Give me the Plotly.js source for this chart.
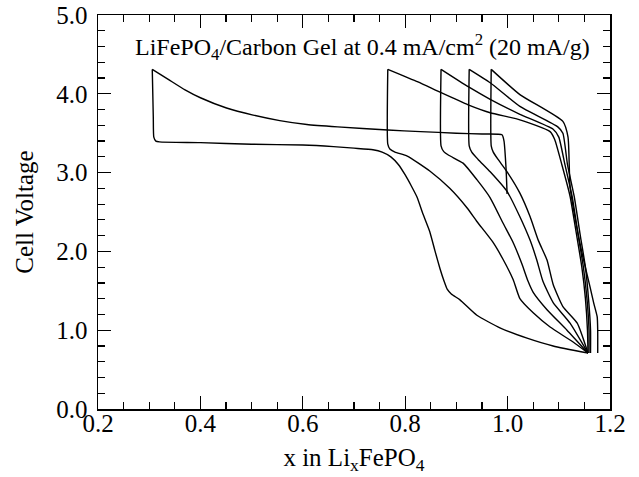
<!DOCTYPE html>
<html>
<head>
<meta charset="utf-8">
<script src="https://cdn.plot.ly/plotly-3.0.1.min.js"></script>
<style>html,body{margin:0;padding:0;background:#fff;}#chart{width:639px;height:477px;}</style>
</head>
<body>
<div id="chart"></div>
<script>
// Initial charge (from x = 1.0 up to 4.3 V)
const c0x = [0.999, 0.997, 0.993, 0.989, 0.95, 0.90, 0.83, 0.766, 0.668, 0.608, 0.555, 0.503, 0.451, 0.40, 0.37, 0.338, 0.306];
const c0y = [2.73, 3.05, 3.40, 3.48, 3.49, 3.50, 3.52, 3.54, 3.58, 3.61, 3.66, 3.73, 3.82, 3.95, 4.05, 4.18, 4.31];
// First discharge
const d1x = [0.306, 0.308, 0.309, 0.313, 0.320, 0.40, 0.50, 0.60, 0.66, 0.70, 0.737, 0.755, 0.772, 0.787, 0.80, 0.812, 0.823, 0.835, 0.848, 0.858, 0.868, 0.876, 0.882, 0.890, 0.907, 0.940, 0.985, 1.038, 1.089, 1.157];
const d1y = [4.31, 3.70, 3.45, 3.40, 3.39, 3.38, 3.36, 3.35, 3.33, 3.31, 3.29, 3.26, 3.20, 3.10, 2.97, 2.83, 2.69, 2.47, 2.25, 2.01, 1.78, 1.62, 1.52, 1.46, 1.385, 1.19, 1.03, 0.90, 0.80, 0.71];
// Charge cycles 2-5
const c2x = [1.157, 1.156, 1.152, 1.145, 1.135, 1.122, 1.106, 1.092, 1.083, 1.024, 0.966, 0.923, 0.868, 0.825, 0.766];
const c2y = [0.71, 1.00, 1.40, 1.80, 2.20, 2.70, 3.10, 3.42, 3.52, 3.67, 3.76, 3.86, 4.02, 4.15, 4.31];
const c3x = [1.159, 1.159, 1.155, 1.148, 1.138, 1.126, 1.112, 1.100, 1.089, 1.024, 0.966, 0.923, 0.870];
const c3y = [0.71, 1.00, 1.40, 1.80, 2.20, 2.70, 3.10, 3.45, 3.55, 3.74, 3.93, 4.09, 4.31];
const c4x = [1.162, 1.162, 1.158, 1.152, 1.142, 1.130, 1.117, 1.108, 1.098, 1.024, 0.966, 0.925];
const c4y = [0.71, 1.00, 1.40, 1.80, 2.20, 2.70, 3.10, 3.50, 3.58, 3.84, 4.14, 4.31];
const c5x = [1.176, 1.176, 1.175, 1.168, 1.161, 1.147, 1.135, 1.122, 1.118, 1.108, 1.024, 0.968];
const c5y = [0.71, 1.00, 1.17, 1.35, 1.55, 1.93, 2.31, 2.82, 3.45, 3.65, 3.99, 4.31];
// Discharge cycles 2-5
const d2x = [0.766, 0.766, 0.770, 0.780, 0.804, 0.848, 0.887, 0.921, 0.940, 0.971, 0.991, 1.011, 1.024, 1.050, 1.083, 1.128, 1.157];
const d2y = [4.31, 3.36, 3.30, 3.26, 3.21, 3.02, 2.80, 2.55, 2.38, 2.12, 1.90, 1.64, 1.40, 1.22, 1.04, 0.85, 0.71];
const d3x = [0.870, 0.870, 0.875, 0.885, 0.913, 0.940, 0.966, 0.991, 1.011, 1.028, 1.040, 1.050, 1.077, 1.116, 1.157];
const d3y = [4.31, 3.34, 3.27, 3.22, 3.12, 2.91, 2.68, 2.36, 2.11, 1.84, 1.62, 1.48, 1.26, 1.00, 0.71];
const d4x = [0.925, 0.925, 0.930, 0.942, 0.966, 0.999, 1.024, 1.044, 1.057, 1.069, 1.089, 1.122, 1.157];
const d4y = [4.31, 3.34, 3.26, 3.17, 3.01, 2.76, 2.44, 2.14, 1.89, 1.62, 1.35, 1.09, 0.71];
const d5x = [0.968, 0.968, 0.972, 0.981, 0.999, 1.024, 1.044, 1.060, 1.077, 1.089, 1.108, 1.136, 1.157];
const d5y = [4.31, 3.34, 3.26, 3.17, 3.01, 2.74, 2.44, 2.14, 1.89, 1.58, 1.30, 1.09, 0.71];

const xTicks = [0.2, 0.4, 0.6, 0.8, 1.0, 1.2];
const yTicks = [0, 1, 2, 3, 4, 5];

const segs = [[c0x,c0y],[d1x,d1y],[c2x,c2y],[d2x,d2y],[c3x,c3y],[d3x,d3y],[c4x,c4y],[d4x,d4y],[c5x,c5y],[d5x,d5y]];
const traces = segs.map(s => ({x: s[0], y: s[1], mode: 'lines', type: 'scatter',
  line: {color: '#000', width: 1.4, shape: 'spline', smoothing: 0.5}, hoverinfo: 'skip', showlegend: false}));
// invisible helper trace on the label axis
traces.push({x: [0.2, 1.2], y: [0, 0], xaxis: 'x2', mode: 'lines', line: {width: 0, color: 'rgba(0,0,0,0)'}, hoverinfo: 'skip', showlegend: false});

const font = '"Liberation Serif", "Times New Roman", Times, serif';
const layout = {
  width: 639, height: 477,
  margin: {l: 98, r: 29, t: 15, b: 68},
  paper_bgcolor: '#fff', plot_bgcolor: '#fff',
  font: {family: font, size: 24, color: '#000'},
  showlegend: false,
  xaxis: {
    range: [0.2, 1.2], tickvals: xTicks, showticklabels: false,
    ticks: 'inside', ticklen: 13, tickwidth: 1.2, tickcolor: '#000',
    minor: {dtick: 0.05, ticks: 'inside', ticklen: 7, tickwidth: 1.2, tickcolor: '#000'},
    showline: true, linecolor: '#000', linewidth: 1.5, mirror: 'ticks',
    showgrid: false, zeroline: false
  },
  xaxis2: {
    overlaying: 'x', anchor: 'free', position: 0.008, side: 'bottom',
    range: [0.2, 1.2], tickvals: xTicks, tickformat: '.1f',
    ticks: '', showline: false, showgrid: false, zeroline: false,
    tickfont: {family: font, size: 25},
    title: {text: 'x in Li<sub>x</sub>FePO<sub>4</sub>', font: {family: font, size: 25}, standoff: 12}
  },
  yaxis: {
    range: [0, 5], tickvals: yTicks, tickformat: '.1f',
    ticks: 'inside', ticklen: 13, tickwidth: 1.2, tickcolor: '#000',
    minor: {dtick: 0.2, ticks: 'inside', ticklen: 7, tickwidth: 1.2, tickcolor: '#000'},
    showline: true, linecolor: '#000', linewidth: 1.5, mirror: 'ticks',
    showgrid: false, zeroline: false,
    tickfont: {family: font, size: 25},
    ticklabelstandoff: 4,
    title: {text: 'Cell Voltage', font: {family: font, size: 25}, standoff: 15}
  },
  annotations: [{
    xref: 'paper', yref: 'paper', x: 0.517, y: 0.92, xanchor: 'center', yanchor: 'middle',
    showarrow: false, text: 'LiFePO<sub>4</sub>/Carbon Gel at 0.4 mA/cm<sup>2</sup> (20 mA/g)',
    font: {family: font, size: 24, color: '#000'}
  }]
};
Plotly.newPlot('chart', traces, layout, {staticPlot: true, displayModeBar: false});
</script>
</body>
</html>
